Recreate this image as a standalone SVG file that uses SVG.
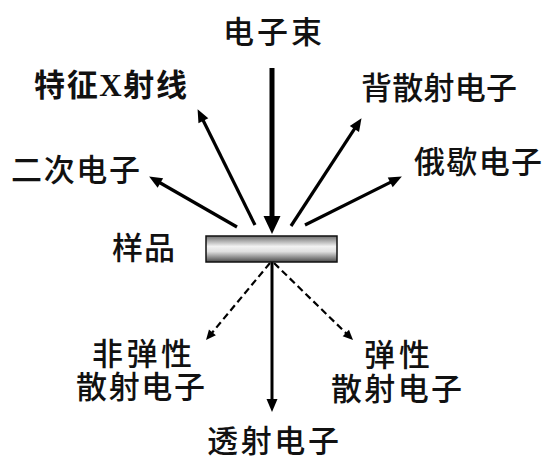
<svg xmlns="http://www.w3.org/2000/svg" width="543" height="457" viewBox="0 0 543 457">
  <style>
    .lbl { font-family: "Noto Sans CJK SC", "Noto Sans", sans-serif; font-size: 31px; font-weight: 500; fill: #111; }
    .bold { font-weight: 700; }
    .ln { stroke: #000; fill: none; }
    .side { stroke-width: 3.2; }
    .dash { stroke-width: 2.2; stroke-dasharray: 7 4; }
  </style>
  <defs>
    <marker id="hd" markerUnits="userSpaceOnUse" markerWidth="14" markerHeight="12" refX="4" refY="5.5" orient="auto" overflow="visible">
      <path d="M0,0 L13,5.5 L0,11 z" fill="#000"/>
    </marker>
    <marker id="hdLg" markerUnits="userSpaceOnUse" markerWidth="20" markerHeight="18" refX="6" refY="8.5" orient="auto" overflow="visible">
      <path d="M0,0 L18,8.5 L0,17 z" fill="#000"/>
    </marker>
    <marker id="hdSm" markerUnits="userSpaceOnUse" markerWidth="12" markerHeight="10" refX="3" refY="4.5" orient="auto" overflow="visible">
      <path d="M0,0 L10,4.5 L0,9 z" fill="#000"/>
    </marker>
    <linearGradient id="gSample" x1="0" y1="0" x2="0" y2="1">
      <stop offset="0" stop-color="#6e6e6e"/>
      <stop offset="0.4" stop-color="#f2f2f2"/>
      <stop offset="0.6" stop-color="#e0e0e0"/>
      <stop offset="1" stop-color="#4a4a4a"/>
    </linearGradient>
  </defs>

  <g id="connectors">
    <line class="ln" x1="272" y1="68" x2="272" y2="222" stroke-width="5" marker-end="url(#hdLg)"/>
    <line class="ln side" x1="237" y1="227" x2="156.9" y2="181" marker-end="url(#hd)"/>
    <line class="ln side" x1="255" y1="225" x2="201.6" y2="117.2" marker-end="url(#hd)"/>
    <line class="ln side" x1="291" y1="226" x2="356.6" y2="125.7" marker-end="url(#hd)"/>
    <line class="ln side" x1="305" y1="225" x2="393.8" y2="180.6" marker-end="url(#hd)"/>
    <line class="ln" x1="272" y1="262" x2="272" y2="403" stroke-width="3" marker-end="url(#hd)"/>
    <line class="ln dash" x1="270" y1="263" x2="210.5" y2="334.6" marker-end="url(#hdSm)"/>
    <line class="ln dash" x1="274" y1="263" x2="348" y2="335.1" marker-end="url(#hdSm)"/>
  </g>

  <g id="sample">
    <rect x="206" y="236" width="131" height="26" fill="url(#gSample)" stroke="#111" stroke-width="1.5"/>
    <text class="lbl" x="112" y="259" textLength="63">样品</text>
  </g>
  <g id="beam">
    <text class="lbl" x="223" y="43" textLength="99">电子束</text>
  </g>
  <g id="xray">
    <text class="lbl bold" x="34" y="96" textLength="153">特征<tspan font-family="Liberation Serif, serif" font-weight="700">X</tspan>射线</text>
  </g>
  <g id="secondary">
    <text class="lbl" x="11" y="181" textLength="129">二次电子</text>
  </g>
  <g id="backscatter">
    <text class="lbl" x="361" y="99" textLength="156">背散射电子</text>
  </g>
  <g id="auger">
    <text class="lbl" x="414" y="173" textLength="128">俄歇电子</text>
  </g>
  <g id="inelastic">
    <text class="lbl" x="92" y="365" textLength="100">非弹性</text>
    <text class="lbl" x="76" y="398" textLength="129">散射电子</text>
  </g>
  <g id="elastic">
    <text class="lbl" x="364" y="366" textLength="66">弹性</text>
    <text class="lbl" x="331" y="400" textLength="131">散射电子</text>
  </g>
  <g id="transmitted">
    <text class="lbl" x="207" y="452" textLength="132">透射电子</text>
  </g>
</svg>
